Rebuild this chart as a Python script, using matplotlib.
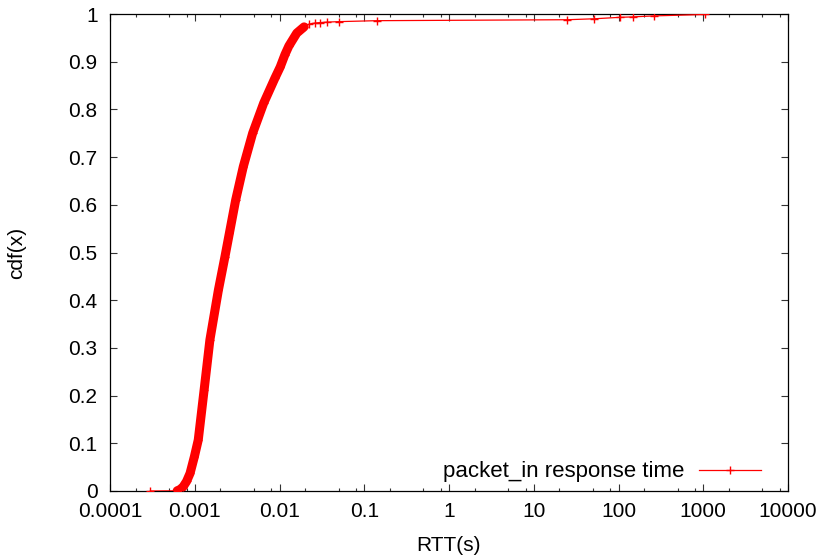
import matplotlib
matplotlib.use("Agg")
import matplotlib.pyplot as plt
from matplotlib.ticker import FixedLocator, FixedFormatter
import numpy as np

# ---- data ----
rtt = [0.0003, 0.00062, 0.00065, 0.00068, 0.00073, 0.00080, 0.00088, 0.00099,
       0.0011, 0.00129, 0.00151, 0.0019, 0.00227, 0.00256, 0.00304, 0.00374,
       0.00482, 0.0065, 0.0088, 0.0102, 0.0116, 0.0129, 0.0160, 0.0195, 0.0225,
       0.026, 0.030, 0.036, 0.050, 0.14, 25, 52, 103, 150, 260, 1050]
cdf = [0.0, 0.0005, 0.002, 0.004, 0.009, 0.02, 0.037, 0.072,
       0.107, 0.212, 0.317, 0.421, 0.491, 0.540, 0.610, 0.680,
       0.750, 0.813, 0.865, 0.889, 0.915, 0.933, 0.960, 0.973, 0.979,
       0.981, 0.982, 0.983, 0.984, 0.986, 0.988, 0.990, 0.993, 0.994, 0.996, 0.999]
series_label = "packet_in response time"
x_ticks = [1e-4, 1e-3, 1e-2, 1e-1, 1, 10, 100, 1000, 10000]
x_ticklabels = ["0.0001", "0.001", "0.01", "0.1", "1", "10", "100", "1000", "10000"]
y_ticks = [0, 0.1, 0.2, 0.3, 0.4, 0.5, 0.6, 0.7, 0.8, 0.9, 1.0]
y_ticklabels = ["0", "0.1", "0.2", "0.3", "0.4", "0.5", "0.6", "0.7", "0.8", "0.9", "1"]

plt.rcParams['font.family'] = ['Liberation Sans', 'DejaVu Sans']
FS = 15

fig = plt.figure(figsize=(8.26, 5.60), dpi=100)
ax = fig.add_axes([110/826, 1 - 491/560, (788-110)/826, (491-14)/560])

rtt_a = np.array(rtt)
cdf_a = np.array(cdf)
dense = (rtt_a >= 0.0006) & (cdf_a <= 0.976)

# dense band of overlapping markers
ax.plot(rtt_a[dense], cdf_a[dense], color='#ff0000', lw=6.5,
        solid_capstyle='round', solid_joinstyle='round', zorder=2)
# thin line with + markers
ax.plot(rtt_a, cdf_a, color='#ff0000', lw=0.9, marker='+', markersize=5.5,
        markeredgewidth=1.0, label=series_label, zorder=3)

ax.set_xscale('log')
ax.set_xlim(1e-4, 1e4)
ax.set_ylim(0, 1)

ax.xaxis.set_major_locator(FixedLocator(x_ticks))
ax.xaxis.set_major_formatter(FixedFormatter(x_ticklabels))
minor = []
for e in range(-4, 4):
    for m in (2, 5, 8):
        minor.append(m * 10.0**e)
ax.xaxis.set_minor_locator(FixedLocator(minor))
ax.xaxis.set_minor_formatter(FixedFormatter([""] * len(minor)))
ax.yaxis.set_major_locator(FixedLocator(y_ticks))
ax.yaxis.set_major_formatter(FixedFormatter(y_ticklabels))
ax.yaxis.set_minor_locator(FixedLocator([]))

ax.tick_params(which='both', direction='in', top=True, right=True,
               labelsize=FS, color='#333333', width=0.8)
ax.tick_params(which='major', length=5)
ax.tick_params(which='minor', length=2.5)
ax.tick_params(axis='x', which='major', pad=8)
ax.tick_params(axis='y', which='major', pad=9)
for s in ax.spines.values():
    s.set_linewidth(0.9)
    s.set_color('black')

ax.set_xlabel("RTT(s)", fontsize=FS)
ax.set_ylabel("cdf(x)", fontsize=FS)
ax.xaxis.set_label_coords(0.5, -0.094)
ax.yaxis.set_label_coords(-0.124, 0.5)

leg = ax.legend(loc='center right', bbox_to_anchor=((761-110)/678, (491-472)/477),
                frameon=False, fontsize=16, markerfirst=False, numpoints=1,
                borderpad=0, borderaxespad=0, handlelength=2.8, handletextpad=0.65)

fig.savefig("out.png", dpi=100)
